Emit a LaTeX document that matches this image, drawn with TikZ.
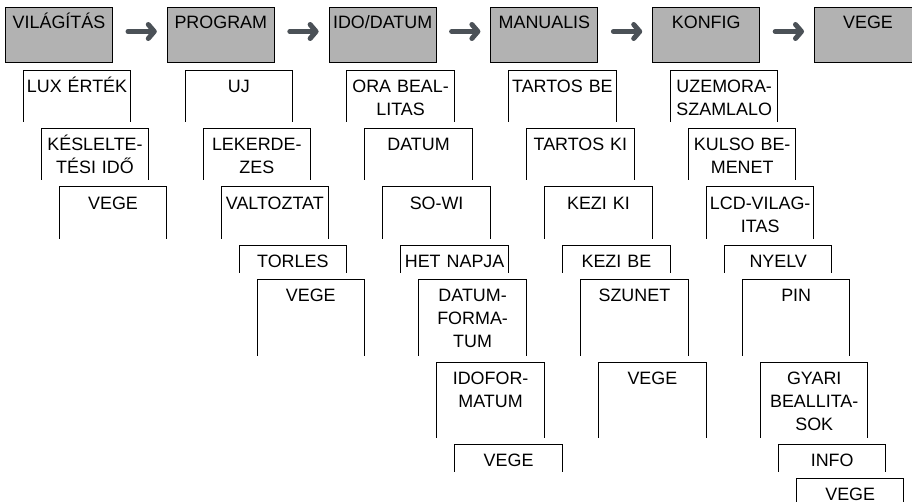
\documentclass[tikz,border=0pt]{standalone}
\usepackage{fontspec}
\setmainfont{Liberation Sans}
\usetikzlibrary{positioning,arrows.meta}

\definecolor{arrowgray}{HTML}{4B5157}

\tikzstyle{m} = [rectangle, draw, line width=1pt, fill=gray!60, inner sep=0pt, text width=107pt, align=center, text height=21pt, text depth=34pt]
\tikzstyle{o} = [draw, line width=1pt, line cap=rect, to path={|- (\tikztotarget)}]
\tikzstyle{s} = [rectangle, inner sep=0pt, text width=107pt, align=center, text height=22pt,
    append after command={(\tikzlastnode.south west) edge [o] (\tikzlastnode.north east)
        (\tikzlastnode.north east) edge [o] (\tikzlastnode.south east)}]
\tikzstyle{s1} = [s, text depth=29pt]
\tikzstyle{s2} = [s, text depth=5pt]
\tikzstyle{s3} = [s, text depth=53pt]
\tikzstyle{l} = [draw, arrowgray, line width=5pt, line cap=round, -{Straight Barb[length=6pt,width=14pt,round]}, shorten <=15pt, shorten >=10pt]

\begin{document}
\begin{tikzpicture}[node distance=7pt, font=\fontsize{17.9pt}{23pt}\selectfont]
    \useasboundingbox (0,0) rectangle (912pt,-501pt);
    % Place nodes
    \node [m, anchor=north west] (vil) at (5pt,-7pt) {VILÁGÍTÁS};
    \node [m, right=53.8pt of vil] (prog) {PROGRAM};
    \node [m, right=53.8pt of prog] (ido) {IDO/DATUM};
    \node [m, right=53.8pt of ido] (man) {MANUALIS};
    \node [m, right=53.8pt of man] (konf) {KONFIG};
    \node [m, right=53.8pt of konf] (vege) {VEGE};

%Submenus
    \node [s1, below=of vil, xshift=18pt] (lux) {LUX ÉRTÉK};
    \node [s1, below=of lux, xshift=18pt] (kes) {KÉSLELTE-\\TÉSI IDŐ};
    \node [s1, below=of kes, xshift=18pt] (vilvege) {VEGE};

    \node [s1, below=of prog, xshift=18pt] (uj) {UJ};
    \node [s1, below=of uj, xshift=18pt] (lek) {LEKERDE-\\ZES};
    \node [s1, below=of lek, xshift=18pt] (valt) {VALTOZTAT};
    \node [s2, below=of valt, xshift=18pt] (torl) {TORLES};
    \node [s3, below=of torl, xshift=18pt] (progvege) {VEGE};

    \node [s1, below=of ido, xshift=18pt] (ora) {ORA BEAL-\\LITAS};
    \node [s1, below=of ora, xshift=18pt] (datum) {DATUM};
    \node [s1, below=of datum, xshift=18pt] (sowi) {SO-WI};
    \node [s2, below=of sowi, xshift=18pt] (het) {HET NAPJA};
    \node [s3, below=of het, xshift=18pt] (datform) {DATUM-\\FORMA-\\TUM};
    \node [s3, below=of datform, xshift=18pt] (idoform) {IDOFOR-\\MATUM};
    \node [s2, below=of idoform, xshift=18pt] (idovege) {VEGE};

    \node [s1, below=of man, xshift=18pt] (tbe) {TARTOS BE};
    \node [s1, below=of tbe, xshift=18pt] (tki) {TARTOS KI};
    \node [s1, below=of tki, xshift=18pt] (kki) {KEZI KI};
    \node [s2, below=of kki, xshift=18pt] (kbe) {KEZI BE};
    \node [s3, below=of kbe, xshift=18pt] (szun) {SZUNET};
    \node [s3, below=of szun, xshift=18pt] (manvege) {VEGE};

    \node [s1, below=of konf, xshift=18pt] (uzem) {UZEMORA-\\SZAMLALO};
    \node [s1, below=of uzem, xshift=18pt] (kulso) {KULSO BE-\\MENET};
    \node [s1, below=of kulso, xshift=18pt] (lcd) {LCD-VILAG-\\ITAS};
    \node [s2, below=of lcd, xshift=18pt] (nyelv) {NYELV};
    \node [s3, below=of nyelv, xshift=18pt] (pin) {PIN};
    \node [s3, below=of pin, xshift=18pt] (gyari) {GYARI\\BEALLITA-\\SOK};
    \node [s2, below=of gyari, xshift=18pt] (info) {INFO};
    \node [s2, below=of info, xshift=18pt, text height=21pt, text depth=4pt] (konfvege) {VEGE};

    % Draw edges
    \path [l] ([yshift=3.5pt]vil.east) -- ([yshift=3.5pt]prog.west);
    \path [l] ([yshift=3.5pt]prog.east) -- ([yshift=3.5pt]ido.west);
    \path [l] ([yshift=3.5pt]ido.east) -- ([yshift=3.5pt]man.west);
    \path [l] ([yshift=3.5pt]man.east) -- ([yshift=3.5pt]konf.west);
    \path [l] ([yshift=3.5pt]konf.east) -- ([yshift=3.5pt]vege.west);

\end{tikzpicture}
\end{document}
